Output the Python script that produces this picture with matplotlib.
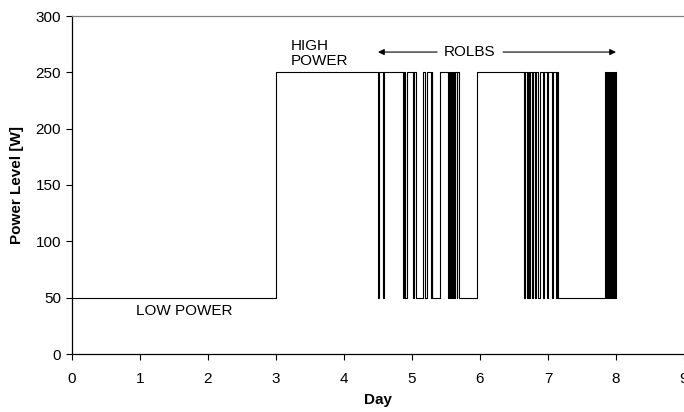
import matplotlib
matplotlib.use("Agg")
import matplotlib.pyplot as plt

plt.rcParams['font.family'] = ['Liberation Sans', 'DejaVu Sans']

# Step series: switching times (days) and power levels (W), held until next time
day = [0.0, 3.0,
       4.504, 4.515, 4.575, 4.588,
       4.863, 4.875, 4.895, 4.922,
       5.019, 5.032, 5.060, 5.166, 5.185, 5.216,
       5.275, 5.290, 5.300, 5.412,
       5.534, 5.545, 5.560, 5.575, 5.590, 5.605, 5.620, 5.635, 5.655, 5.668,
       5.690, 5.960,
       6.647, 6.660, 6.685, 6.700, 6.725, 6.740, 6.765, 6.780, 6.810, 6.825,
       6.860, 6.875, 6.920, 6.935, 6.990, 7.005, 7.060, 7.075, 7.120, 7.135,
       7.151, 7.838,
       7.852, 7.866, 7.880, 7.894, 7.908, 7.922, 7.936, 7.950, 7.964, 7.978,
       7.990, 7.995, 8.0]
power = [50, 250,
         50, 250, 50, 250,
         50, 250, 50, 250,
         50, 250, 50, 250, 50, 250,
         50, 250, 50, 250,
         50, 250, 50, 250, 50, 250, 50, 250, 50, 250,
         50, 250,
         50, 250, 50, 250, 50, 250, 50, 250, 50, 250,
         50, 250, 50, 250, 50, 250, 50, 250, 50, 250,
         50, 250,
         50, 250, 50, 250, 50, 250, 50, 250, 50, 250,
         50, 250, 250]

x_ticks = [0, 1, 2, 3, 4, 5, 6, 7, 8, 9]
y_ticks = [0, 50, 100, 150, 200, 250, 300]

FS = 11

fig = plt.figure(figsize=(6.84, 4.12), dpi=100)
ax = fig.add_axes([72/684, 1-354/412, 1-72/684, (354-16)/412])

ax.plot(day, power, drawstyle='steps-post', color='black', lw=0.8)

ax.set_xlim(0, 9)
ax.set_ylim(0, 300)
ax.set_xticks(x_ticks)
ax.set_yticks(y_ticks)
ax.tick_params(direction='out', length=4, width=0.8, labelsize=FS, colors='black')
ax.tick_params(axis='x', pad=9)
ax.tick_params(axis='y', pad=4)
for s in ['left', 'bottom']:
    ax.spines[s].set_color('black')
    ax.spines[s].set_linewidth(0.9)
ax.spines['top'].set_color('#808080')
ax.spines['top'].set_linewidth(0.9)
ax.spines['right'].set_visible(False)

ax.set_xlabel('Day', fontsize=FS, fontweight='bold', labelpad=5)
ax.set_ylabel('Power Level [W]', fontsize=FS, fontweight='bold', labelpad=8)

ax.text(1.65, 38, 'LOW POWER', fontsize=FS, ha='center', va='center')
ax.text(3.22, 266.5, 'HIGH\nPOWER', fontsize=FS, ha='left', va='center', linespacing=1.1)
ax.text(5.85, 268, 'ROLBS', fontsize=FS, ha='center', va='center')
ax.annotate('', xy=(4.5, 268), xytext=(5.37, 268),
            arrowprops=dict(arrowstyle='-|>', color='black', lw=0.8,
                            mutation_scale=9, shrinkA=0, shrinkB=0))
ax.annotate('', xy=(8.0, 268), xytext=(6.34, 268),
            arrowprops=dict(arrowstyle='-|>', color='black', lw=0.8,
                            mutation_scale=9, shrinkA=0, shrinkB=0))

fig.savefig('out.png', dpi=100)
